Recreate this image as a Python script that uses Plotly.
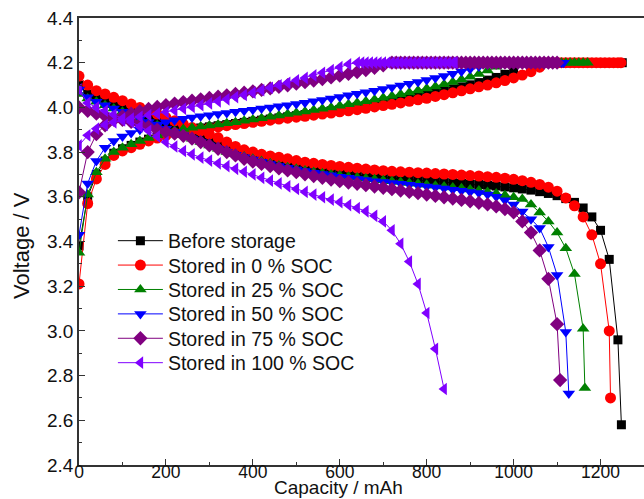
import plotly.graph_objects as go

# ---------------- data ----------------
cap_grid = [0, 20, 40, 60, 80, 100, 120, 140, 160, 180, 200, 220, 240, 260, 280, 300,
            320, 340, 360, 380, 400, 420, 440, 460, 480, 500, 520, 540, 560, 580, 600,
            620, 640, 660, 680, 700, 720, 740, 760, 780, 800, 820, 840, 860, 880, 900,
            920, 940, 960, 980, 1000, 1020, 1040, 1060, 1080, 1100, 1120, 1140, 1160,
            1180, 1200, 1220, 1240]

series_names = ["Before storage", "Stored in 0 % SOC", "Stored in 25 % SOC",
                "Stored in 50 % SOC", "Stored in 75 % SOC", "Stored in 100 % SOC"]

# discharge voltages on cap_grid, followed by the cut-off point
dis_before = [4.10, 4.06, 4.04, 4.025, 4.01, 3.995, 3.98, 3.965, 3.95, 3.935, 3.92, 3.905, 3.89,
              3.875, 3.86, 3.845, 3.83, 3.815, 3.80, 3.79, 3.78, 3.77, 3.76, 3.745, 3.738, 3.73,
              3.724, 3.718, 3.712, 3.707, 3.703, 3.70, 3.697, 3.694, 3.69, 3.687, 3.684, 3.681,
              3.678, 3.675, 3.672, 3.669, 3.666, 3.663, 3.66, 3.657, 3.655, 3.652, 3.648, 3.644,
              3.64, 3.635, 3.63, 3.623, 3.615, 3.605, 3.592, 3.575, 3.55, 3.51, 3.45, 3.32, 2.96]
cut_before = (1248, 2.58)

dis_soc0 = [4.14, 4.10, 4.075, 4.06, 4.045, 4.03, 4.015, 4.00, 3.985, 3.97, 3.955, 3.94, 3.925,
            3.91, 3.895, 3.88, 3.865, 3.845, 3.825, 3.81, 3.80, 3.79, 3.783, 3.777, 3.77, 3.762,
            3.755, 3.75, 3.745, 3.74, 3.736, 3.732, 3.728, 3.724, 3.72, 3.717, 3.714, 3.712,
            3.71, 3.708, 3.706, 3.704, 3.702, 3.70, 3.697, 3.695, 3.693, 3.69, 3.687, 3.683,
            3.678, 3.672, 3.665, 3.655, 3.643, 3.625, 3.595, 3.56, 3.51, 3.43, 3.30, 3.00]
cut_soc0 = (1223, 2.70)

dis_soc25 = [4.06, 4.04, 4.025, 4.01, 3.995, 3.98, 3.965, 3.95, 3.935, 3.92, 3.905, 3.89, 3.875,
             3.86, 3.845, 3.83, 3.815, 3.80, 3.79, 3.78, 3.77, 3.76, 3.75, 3.74, 3.732, 3.725,
             3.718, 3.711, 3.705, 3.70, 3.695, 3.69, 3.686, 3.682, 3.678, 3.674, 3.67, 3.666,
             3.662, 3.658, 3.654, 3.65, 3.646, 3.642, 3.638, 3.633, 3.628, 3.622, 3.615, 3.607,
             3.598, 3.59, 3.565, 3.53, 3.49, 3.44, 3.37, 3.255, 3.01]
cut_soc25 = (1164, 2.745)

dis_soc50 = [4.08, 4.045, 4.025, 4.01, 3.995, 3.98, 3.965, 3.95, 3.935, 3.92, 3.905, 3.89, 3.875,
             3.86, 3.845, 3.83, 3.815, 3.80, 3.788, 3.777, 3.767, 3.757, 3.747, 3.738, 3.73,
             3.722, 3.715, 3.708, 3.702, 3.696, 3.69, 3.685, 3.68, 3.675, 3.67, 3.666, 3.662,
             3.658, 3.654, 3.65, 3.646, 3.642, 3.637, 3.632, 3.627, 3.622, 3.617, 3.61, 3.60,
             3.585, 3.565, 3.534, 3.50, 3.46, 3.375, 3.25, 2.995]
cut_soc50 = (1127, 2.72)

dis_soc75 = [4.00, 3.985, 3.972, 3.962, 3.953, 3.944, 3.935, 3.925, 3.913, 3.90, 3.89, 3.883,
             3.873, 3.86, 3.845, 3.83, 3.815, 3.80, 3.785, 3.77, 3.758, 3.747, 3.737, 3.727,
             3.718, 3.71, 3.701, 3.693, 3.685, 3.677, 3.67, 3.664, 3.658, 3.652, 3.646, 3.64,
             3.634, 3.628, 3.622, 3.616, 3.61, 3.604, 3.598, 3.592, 3.586, 3.58, 3.573, 3.566,
             3.557, 3.545, 3.53, 3.49, 3.44, 3.36, 3.233, 3.03]
cut_soc75 = (1107, 2.78)

dis_soc100 = [4.08, 4.02, 4.00, 3.985, 3.968, 3.95, 3.935, 3.915, 3.895, 3.87, 3.845, 3.825,
              3.805, 3.79, 3.775, 3.762, 3.75, 3.737, 3.725, 3.712, 3.70, 3.685, 3.672, 3.66,
              3.647, 3.635, 3.622, 3.61, 3.598, 3.587, 3.576, 3.563, 3.55, 3.535, 3.515, 3.49,
              3.45, 3.39, 3.31, 3.21, 3.08, 2.92]
cut_soc100 = (840, 2.74)

# charge voltages (constant-current part) on cap_grid
chg_before = [3.38, 3.60, 3.70, 3.76, 3.795, 3.815, 3.83, 3.845, 3.858, 3.87, 3.88, 3.89, 3.897,
              3.903, 3.908, 3.913, 3.918, 3.923, 3.928, 3.933, 3.938, 3.943, 3.948, 3.953, 3.958,
              3.963, 3.968, 3.973, 3.979, 3.985, 3.991, 3.997, 4.003, 4.009, 4.015, 4.022, 4.029,
              4.036, 4.043, 4.05, 4.058, 4.066, 4.074, 4.083, 4.092, 4.101, 4.111, 4.122, 4.134,
              4.148, 4.165]
chg_soc0 = [3.21, 3.57, 3.68, 3.745, 3.785, 3.805, 3.82, 3.835, 3.85, 3.863, 3.875, 3.885, 3.892,
            3.898, 3.903, 3.908, 3.913, 3.918, 3.923, 3.928, 3.933, 3.938, 3.943, 3.948, 3.952,
            3.956, 3.96, 3.965, 3.97, 3.975, 3.98, 3.985, 3.99, 3.996, 4.002, 4.008, 4.014, 4.02,
            4.027, 4.034, 4.041, 4.049, 4.057, 4.065, 4.074, 4.083, 4.092, 4.10, 4.11, 4.12,
            4.132, 4.145, 4.16, 4.18]
chg_soc25 = [3.35, 3.61, 3.71, 3.77, 3.80, 3.82, 3.835, 3.85, 3.863, 3.875, 3.886, 3.896, 3.903,
             3.909, 3.914, 3.919, 3.924, 3.929, 3.934, 3.94, 3.946, 3.952, 3.958, 3.964, 3.97,
             3.976, 3.982, 3.988, 3.994, 4.00, 4.007, 4.014, 4.021, 4.028, 4.035, 4.043, 4.051,
             4.059, 4.067, 4.076, 4.085, 4.094, 4.104, 4.114, 4.125, 4.137, 4.15, 4.165, 4.182]
chg_soc50 = [3.43, 3.66, 3.76, 3.82, 3.85, 3.87, 3.885, 3.90, 3.912, 3.923, 3.933, 3.942, 3.949,
             3.955, 3.96, 3.965, 3.97, 3.975, 3.98, 3.985, 3.99, 3.995, 4.00, 4.005, 4.01, 4.015,
             4.021, 4.027, 4.033, 4.04, 4.047, 4.054, 4.061, 4.068, 4.075, 4.082, 4.09, 4.098,
             4.106, 4.114, 4.123, 4.132, 4.141, 4.151, 4.161, 4.172, 4.183, 4.193]
chg_soc75 = [3.62, 3.80, 3.88, 3.92, 3.945, 3.96, 3.972, 3.983, 3.993, 4.002, 4.01, 4.017, 4.024,
             4.03, 4.036, 4.042, 4.048, 4.054, 4.06, 4.066, 4.072, 4.078, 4.085, 4.092, 4.099,
             4.106, 4.113, 4.12, 4.127, 4.134, 4.142, 4.15, 4.158, 4.167, 4.177, 4.188]
chg_soc100 = [3.83, 3.875, 3.905, 3.922, 3.933, 3.942, 3.95, 3.958, 3.965, 3.972, 3.979, 3.986,
              3.994, 4.002, 4.01, 4.018, 4.027, 4.036, 4.046, 4.056, 4.066, 4.077, 4.088, 4.099,
              4.11, 4.121, 4.132, 4.143, 4.155, 4.167, 4.18, 4.193]

# constant-voltage part: capacities at which 4.2 V was logged
cv_voltage = 4.2
cv_before = [1020, 1030, 1040, 1050, 1060, 1070, 1080, 1090, 1100, 1110, 1120, 1130, 1140, 1150,
             1160, 1170, 1180, 1190, 1200, 1210, 1220, 1230, 1240, 1250]
cv_soc0 = [1070, 1080, 1090, 1100, 1110, 1120, 1130, 1140, 1150, 1160, 1170, 1180, 1190, 1200,
           1210, 1220, 1230, 1240, 1247]
cv_soc25 = [980, 990, 1000, 1010, 1020, 1030, 1040, 1050, 1060, 1070, 1080, 1090, 1100, 1110,
            1120, 1130, 1140, 1150, 1160, 1170]
cv_soc50 = [960, 970, 980, 990, 1000, 1010, 1020, 1030, 1040, 1050, 1060, 1070, 1080, 1090,
            1100, 1110, 1115]
cv_soc75 = [720, 730, 740, 750, 760, 770, 780, 790, 800, 810, 820, 830, 840, 850, 860, 870, 880,
            890, 900, 910, 920, 930, 940, 950, 960, 970, 980, 990, 1000, 1010, 1020, 1030, 1040,
            1050, 1060, 1070, 1080, 1090, 1100]
cv_soc100 = [640, 650, 660, 670, 680, 690, 700, 710, 720, 730, 740, 750, 760, 770, 780, 790, 800,
             810, 820, 830, 840, 850, 860, 865]

x_title = "Capacity / mAh"
y_title = "Voltage / V"

discharges = [(dis_before, cut_before), (dis_soc0, cut_soc0), (dis_soc25, cut_soc25),
              (dis_soc50, cut_soc50), (dis_soc75, cut_soc75), (dis_soc100, cut_soc100)]
charges = [(chg_before, cv_before), (chg_soc0, cv_soc0), (chg_soc25, cv_soc25),
           (chg_soc50, cv_soc50), (chg_soc75, cv_soc75), (chg_soc100, cv_soc100)]

# ---------------- styles ----------------
colors = ["#000000", "#FF0000", "#008000", "#0000FF", "#800080", "#8000FF"]
symbols = ["square", "circle", "triangle-up", "triangle-down", "diamond", "triangle-left"]
sizes = [9, 11, 11, 11, 11, 11]
legend_ids = ["legend", "legend2", "legend3", "legend4", "legend5", "legend6"]

FONT = "Liberation Sans, Arial, sans-serif"
PLOT_TOP, PLOT_BOTTOM = 18, 465          # pixel extent of the plotting area
LEGEND_FIRST_ROW, LEGEND_ROW_STEP = 241, 24.4

fig = go.Figure()
for i, name in enumerate(series_names):
    dv, cut = discharges[i]
    cv_cc, cv_caps = charges[i]
    xs = cap_grid[:len(dv)] + [cut[0]] + [None] + cap_grid[:len(cv_cc)] + cv_caps
    ys = dv + [cut[1]] + [None] + cv_cc + [cv_voltage] * len(cv_caps)
    fig.add_trace(go.Scatter(
        x=xs, y=ys, name=name, mode="lines+markers", connectgaps=False,
        legend=legend_ids[i],
        line=dict(color=colors[i], width=1),
        marker=dict(symbol=symbols[i], size=sizes[i], color=colors[i], line=dict(width=0)),
    ))

# one single-entry legend per series so the rows can be spaced like the reference
legend_layout = {}
for i, lid in enumerate(legend_ids):
    row_px = LEGEND_FIRST_ROW + LEGEND_ROW_STEP * i
    legend_layout[lid] = dict(
        x=0.06, y=(PLOT_BOTTOM - row_px) / (PLOT_BOTTOM - PLOT_TOP),
        xanchor="left", yanchor="middle", itemwidth=45,
        bgcolor="rgba(0,0,0,0)", borderwidth=0,
        font=dict(size=19.5, color="#111111", family=FONT))

fig.update_layout(
    width=644, height=499,
    margin=dict(l=79, r=0, t=PLOT_TOP, b=499 - PLOT_BOTTOM),
    paper_bgcolor="white", plot_bgcolor="white",
    font=dict(family=FONT, size=19, color="#111111"),
    showlegend=True,
    xaxis=dict(range=[0, 1300], dtick=200, tick0=0, showgrid=False, zeroline=False,
               automargin=False, ticklabelstandoff=-10,
               showline=True, linecolor="#333333", linewidth=1.5, mirror=True,
               ticks="inside", ticklen=6, tickcolor="#333333",
               tickfont=dict(size=17.5),
               minor=dict(dtick=100, ticks="inside", ticklen=3, tickcolor="#333333")),
    yaxis=dict(range=[2.4, 4.4], dtick=0.2, tick0=2.4, tickformat=".1f", showgrid=False,
               zeroline=False, automargin=False, showline=True, linecolor="#333333",
               linewidth=1.5, ticks="inside", ticklen=6, tickcolor="#333333",
               tickfont=dict(size=19),
               minor=dict(dtick=0.1, ticks="inside", ticklen=3, tickcolor="#333333")),
    annotations=[
        dict(text=x_title, xref="paper", yref="paper", x=0.46, y=0, xanchor="center",
             yanchor="bottom", yshift=-35, showarrow=False, font=dict(size=19, family=FONT)),
        dict(text=y_title, xref="paper", yref="paper", x=0, y=0.49, xanchor="center",
             yanchor="middle", xshift=-57, textangle=-90, showarrow=False,
             font=dict(size=22, family=FONT)),
    ],
    **legend_layout,
)

fig.write_html("out.html")
